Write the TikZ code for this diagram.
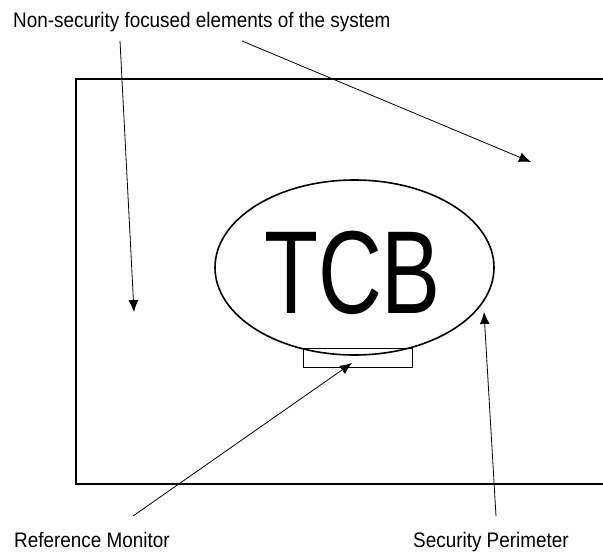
\documentclass[tikz,border=0pt]{standalone}
\usepackage{fontspec}
\newfontfamily\labelfont[FakeStretch=0.9]{Liberation Sans}
\newfontfamily\tcbfont[FakeStretch=0.75]{Liberation Sans}
\usepackage{tikz}
\usetikzlibrary{arrows.meta}
\usetikzlibrary{shapes.geometric}
\tikzstyle{lbl}=[anchor=base west, inner sep=0pt, font=\labelfont\fontsize{21}{21}\selectfont]
\tikzstyle{tcbshape}=[draw, ellipse, line width=1.6pt, minimum width=279pt, minimum height=175pt, inner sep=0pt]
\tikzstyle{monitor}=[draw, line width=0.7pt, minimum width=109pt, minimum height=19pt, inner sep=0pt]

\begin{document}
\begin{tikzpicture}[x=1pt,y=-1pt,>={Latex[length=12pt,width=10pt]}]
    \useasboundingbox (0,0) rectangle (603,552);
    % system box, runs off the right edge
    \draw[line width=1.6pt] (610,79) -- (76,79) -- (76,484) -- (610,484);
    \node [tcbshape] (tcb) at (354.5,267.5) {};
    \node [inner sep=0pt, font=\tcbfont\fontsize{118}{118}\selectfont] (tcbtext) at (352.5,272.5) {TCB};
    \node [monitor] (rm) at (357.5,357.5) {};
    % labels
    \node [lbl] (nonsec) at (13,27) {Non-security focused elements of the system};
    \node [lbl] (rmlbl) at (14,547) {Reference Monitor};
    \node [lbl] (splbl) at (413,547) {Security Perimeter};
    % arrow ends
    \coordinate (n1) at (120,41);
    \coordinate (n1e) at (134,312);
    \coordinate (n2) at (242,41);
    \coordinate (n2e) at (531,162);
    \coordinate (r1) at (133,516);
    \coordinate (r1e) at (352,363);
    \coordinate (s1) at (496,516);
    \coordinate (s1e) at (484,312);
    \draw[->, line width=0.8pt] (n1) -- (n1e);
    \draw[->, line width=0.8pt] (n2) -- (n2e);
    \draw[->, line width=0.8pt] (r1) -- (r1e);
    \draw[->, line width=0.8pt] (s1) -- (s1e);
\end{tikzpicture}
\end{document}
